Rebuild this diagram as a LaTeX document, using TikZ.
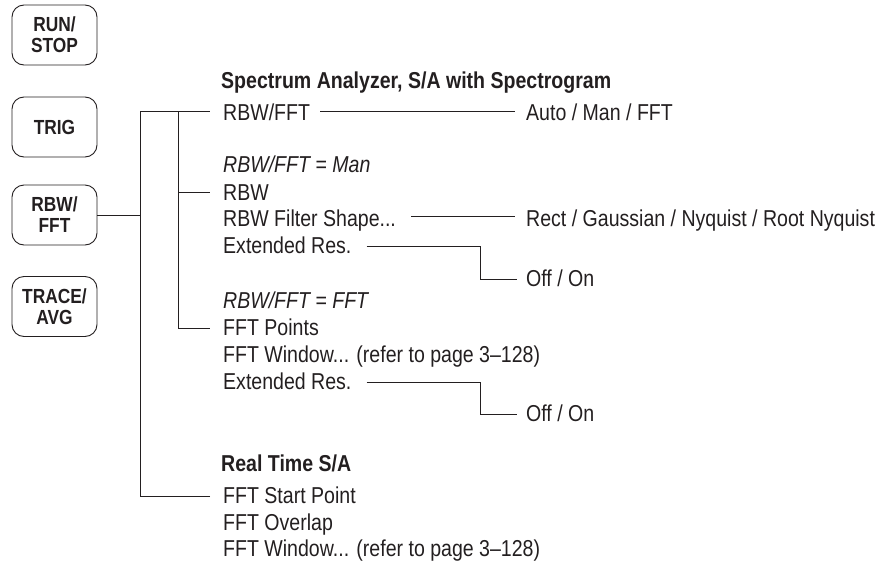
\documentclass[tikz,border=0pt]{standalone}
\usepackage{fontspec}
\setmainfont{Liberation Sans}[FakeStretch=0.85]
\usetikzlibrary{calc}
\definecolor{ink}{RGB}{35,31,32}
\begin{document}
\begin{tikzpicture}[x=1pt,y=-1pt,
  txt/.style={anchor=base west,inner sep=0pt,font=\fontsize{23}{27}\selectfont,text=ink},
  hdr/.style={txt,font=\fontsize{23}{27}\selectfont\bfseries},
  ital/.style={txt,font=\fontsize{23}{27}\selectfont\itshape},
  btn/.style={draw=ink,line width=0.9pt,rounded corners=12pt,minimum width=85pt,minimum height=60pt,align=center,inner sep=0pt,font=\fontsize{20.4}{21}\selectfont\bfseries,text=ink},
  wire/.style={draw=ink,line width=0.85pt}]
\useasboundingbox (0,0) rectangle (884,565);
% buttons
\node[btn] (runbtn) at (54.5,35) {RUN/\\STOP};
\node[btn] (trigbtn) at (54.5,127) {TRIG};
\node[btn] (rbwbtn) at (54.5,215) {RBW/\\FFT};
\node[btn] (tracebtn) at (54.5,306.5) {TRACE/\\AVG};
% texts
\node[hdr] (hdr1) at (221,88.5) {Spectrum Analyzer, S/A with Spectrogram};
\node[txt] (rbwfft) at (223,120) {RBW/FFT};
\node[txt] (auto) at (526,120) {Auto / Man / FFT};
\node[ital] (man) at (223,172.7) {RBW/FFT = Man};
\node[txt] (rbw) at (223,200) {RBW};
\node[txt] (filter) at (223,226.5) {RBW Filter Shape...};
\node[txt] (rect) at (526,226.5) {Rect / Gaussian / Nyquist / Root Nyquist};
\node[txt] (ext1) at (223,253.5) {Extended Res.};
\node[txt] (off1) at (526,286.7) {Off / On};
\node[ital] (fftlbl) at (223,308.3) {RBW/FFT = FFT};
\node[txt] (fftpts) at (223,335) {FFT Points};
\node[txt] (fftwin) at (223,362) {FFT Window... (refer to page 3--128)};
\node[txt] (ext2) at (223,389) {Extended Res.};
\node[txt] (off2) at (526,421.7) {Off / On};
\node[hdr] (hdr2) at (221,471.7) {Real Time S/A};
\node[txt] (fftstart) at (223,503.3) {FFT Start Point};
\node[txt] (overlap) at (223,530) {FFT Overlap};
\node[txt] (fftwin2) at (223,556.7) {FFT Window... (refer to page 3--128)};
% tree
\coordinate (tx) at (140,0);
\coordinate (bx) at (178,0);
\coordinate (ex) at (480,0);
\coordinate (a1) at ([xshift=-13pt,yshift=9pt]rbwfft.base west);
\coordinate (a2) at ([xshift=-13pt,yshift=8pt]rbw.base west);
\coordinate (a3) at ([xshift=-13pt,yshift=6.5pt]fftpts.base west);
\coordinate (a4) at ([xshift=-13pt,yshift=6.5pt]fftstart.base west);
\draw[wire] (a4) -- (a4 -| tx) -- (a1 -| tx) -- (a1);
\draw[wire] (a1 -| bx) -- (a3 -| bx) -- (a3);
\draw[wire] (a2 -| bx) -- (a2);
\draw[wire] (rbwbtn.east) -- (rbwbtn.east -| tx);
% right connectors
\draw[wire] ([xshift=10pt,yshift=9pt]rbwfft.base east) -- ([xshift=-11pt,yshift=9pt]auto.base west);
\draw[wire] ([xshift=15pt,yshift=10pt]filter.base east) -- ([xshift=-11pt,yshift=10pt]rect.base west);
\coordinate (s1) at ([xshift=15pt,yshift=7pt]ext1.base east);
\coordinate (e1) at ([xshift=-9pt,yshift=7.7pt]off1.base west);
\draw[wire] (s1) -- (s1 -| ex) |- (e1);
\coordinate (s2) at ([xshift=15pt,yshift=7pt]ext2.base east);
\coordinate (e2) at ([xshift=-9pt,yshift=7.7pt]off2.base west);
\draw[wire] (s2) -- (s2 -| ex) |- (e2);
\end{tikzpicture}
\end{document}
